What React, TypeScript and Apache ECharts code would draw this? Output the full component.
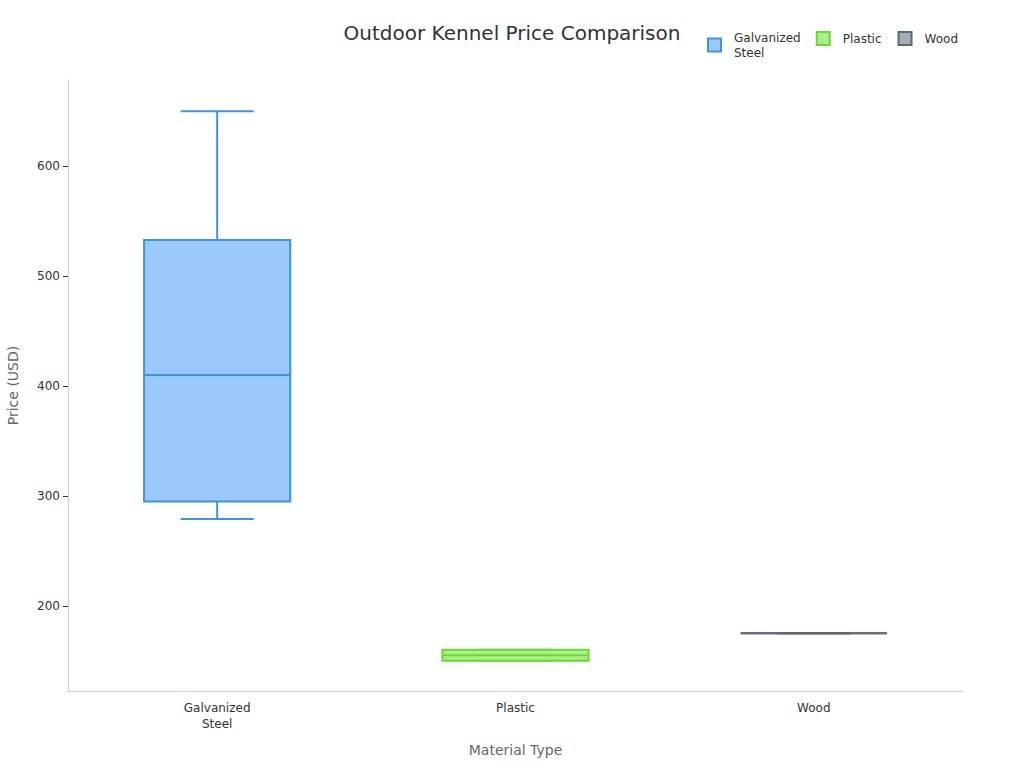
import React, { useEffect, useRef } from "react";
import * as echarts from "echarts";

const categories = ["Galvanized\nSteel", "Plastic", "Wood"];
const seriesNames = ["Galvanized Steel", "Plastic", "Wood"];
// [categoryIndex, min, Q1, median, Q3, max]
const galvanizedSteel = [0, 279, 295, 410, 533, 650];
const plastic = [1, 150, 150, 155, 160, 160];
const wood = [2, 175, 175, 175, 175, 175];
const yTicks = [200, 300, 400, 500, 600];
const yMin = 122.5;
const yMax = 678.5;

const fills = ["#99c9fd", "#a9ee88", "#a3aeb6"];
const strokes = ["#3d94e0", "#68da30", "#5b6c78"];

export default function App() {
  const ref = useRef<HTMLDivElement>(null);
  useEffect(() => {
    if (!ref.current) return;
    const chart = echarts.init(ref.current, undefined, { renderer: "svg" });
    const font = "DejaVu Sans";
    const renderItem = (params: any, api: any) => {
      const x = api.value(0);
      const lo = api.coord([x, api.value(1)]);
      const q1 = api.coord([x, api.value(2)]);
      const md = api.coord([x, api.value(3)]);
      const q3 = api.coord([x, api.value(4)]);
      const hi = api.coord([x, api.value(5)]);
      const band = api.size([1, 0])[0];
      const bw = band * 0.49;
      const ww = bw * 0.5;
      const cx = lo[0];
      const stroke = strokes[params.seriesIndex];
      const fill = fills[params.seriesIndex];
      const ls = { stroke, lineWidth: 2 };
      return {
        type: "group",
        children: [
          { type: "line", shape: { x1: cx, y1: hi[1], x2: cx, y2: q3[1] }, style: ls },
          { type: "line", shape: { x1: cx, y1: lo[1], x2: cx, y2: q1[1] }, style: ls },
          { type: "line", shape: { x1: cx - ww / 2, y1: hi[1], x2: cx + ww / 2, y2: hi[1] }, style: ls },
          { type: "line", shape: { x1: cx - ww / 2, y1: lo[1], x2: cx + ww / 2, y2: lo[1] }, style: ls },
          {
            type: "rect",
            shape: { x: cx - bw / 2, y: q3[1], width: bw, height: q1[1] - q3[1] },
            style: { fill, stroke, lineWidth: 2 },
          },
          { type: "line", shape: { x1: cx - bw / 2, y1: md[1], x2: cx + bw / 2, y2: md[1] }, style: ls },
        ],
      };
    };
    const datasets = [galvanizedSteel, plastic, wood];
    const legendBase = {
      icon: "rect",
      itemWidth: 13,
      itemHeight: 13,
      itemGap: 16,
      formatter: (n: string) => (n === "Galvanized Steel" ? "Galvanized\nSteel" : n),
      textStyle: { fontFamily: font, fontSize: 12, color: "#333", padding: [0, 0, 0, 8], lineHeight: 15 },
    };
    const legendItem = (i: number) => ({
      name: seriesNames[i],
      itemStyle: { color: fills[i], borderColor: strokes[i], borderWidth: 2 },
    });
    chart.setOption({
      animation: false,
      textStyle: { fontFamily: font },
      title: {
        text: "Outdoor Kennel Price Comparison",
        left: "center",
        top: 18,
        textStyle: { fontFamily: font, fontSize: 20, fontWeight: "normal", color: "#333" },
      },
      legend: [
        { ...legendBase, left: 702, top: 25, data: [legendItem(0)] },
        { ...legendBase, right: 61, top: 26, data: [legendItem(1), legendItem(2)] },
      ],
      grid: { left: 68, right: 61, top: 80, bottom: 77, containLabel: false, outerBoundsMode: "none" },
      xAxis: {
        type: "category",
        data: categories,
        name: "Material Type",
        nameLocation: "middle",
        nameGap: 52,
        nameTextStyle: { fontFamily: font, fontSize: 14, color: "#666" },
        axisLine: { lineStyle: { color: "#d0d0d0" } },
        axisTick: { show: false },
        axisLabel: { fontFamily: font, fontSize: 12, color: "#333", margin: 9, lineHeight: 16 },
      },
      yAxis: {
        type: "value",
        min: yMin,
        max: yMax,
        name: "Price (USD)",
        nameLocation: "middle",
        nameGap: 48,
        nameTextStyle: { fontFamily: font, fontSize: 14, color: "#666" },
        splitLine: { show: false },
        axisLine: { show: true, lineStyle: { color: "#d0d0d0" } },
        axisTick: { show: true, length: 5, lineStyle: { color: "#333" }, customValues: yTicks },
        axisLabel: { fontFamily: font, fontSize: 12, color: "#333", margin: 8, customValues: yTicks },
      },
      series: datasets.map((d, i) => ({
        type: "custom",
        name: seriesNames[i],
        renderItem,
        itemStyle: { color: fills[i], borderColor: strokes[i], borderWidth: 2 },
        encode: { x: 0, y: [1, 2, 3, 4, 5] },
        data: [d],
      })),
    });
    return () => chart.dispose();
  }, []);
  return (
    <div
      ref={ref}
      style={{ position: "fixed", left: 0, top: 0, width: 1024, height: 768, background: "#fff" }}
    />
  );
}
